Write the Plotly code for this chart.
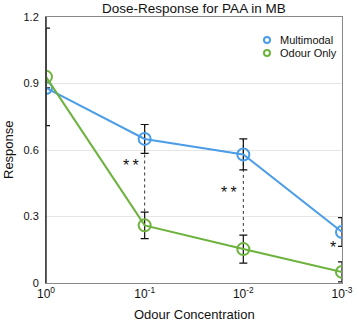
import math
import plotly.graph_objects as go

conc = [1, 0.1, 0.01, 0.001]
conc_labels = ["10<sup>0</sup>", "10<sup>-1</sup>", "10<sup>-2</sup>", "10<sup>-3</sup>"]
multimodal = [0.88, 0.65, 0.58, 0.23]
multimodal_err = [0.0, 0.065, 0.07, 0.065]
odour_only = [0.93, 0.26, 0.153, 0.05]
odour_err = [0.22, 0.06, 0.063, 0.045]
series_names = ["Multimodal", "Odour Only"]
sig_labels = ["*\u2009*", "*\u2009*", "*"]
sig_conc = [0.1, 0.01, 0.001]
sig_y = [0.53, 0.41, 0.16]

BLUE = "#4a9de6"
GREEN = "#6cb23c"
COLORS = [BLUE, GREEN]
FONT = "Liberation Sans, Arial, sans-serif"

fig = go.Figure()

# dashed significance connectors
for c, m, me, o, oe in zip(conc[1:3], multimodal[1:3], multimodal_err[1:3],
                           odour_only[1:3], odour_err[1:3]):
    fig.add_trace(go.Scatter(x=[c, c], y=[m + me, o + oe], mode="lines",
                             line=dict(color="#333", width=1, dash="3px,3px"),
                             showlegend=False, hoverinfo="skip"))

for name, vals, errs, col in zip(series_names, [multimodal, odour_only],
                                 [multimodal_err, odour_err], COLORS):
    fig.add_trace(go.Scatter(
        x=conc, y=vals, mode="lines+markers", name=name, showlegend=False,
        line=dict(color=col, width=2),
        marker=dict(symbol="circle-open", size=12, color=col, line=dict(width=2)),
        error_y=dict(type="data", array=errs, color="#111", thickness=1.2, width=4)))

# compact legend (symbol + label) in the top-right corner
for i, (name, col) in enumerate(zip(series_names, COLORS)):
    ly = 0.9135 - i * 0.049
    fig.add_shape(type="circle", xref="paper", yref="paper",
                  xsizemode="pixel", ysizemode="pixel", xanchor=0.7466, yanchor=ly,
                  x0=-3, x1=3, y0=-3, y1=3, line=dict(color=col, width=2))
    fig.add_annotation(x=0.7838, y=ly, xref="paper", yref="paper", text=name,
                       showarrow=False, xanchor="left", yanchor="middle",
                       font=dict(size=11, color="#111", family=FONT))

for lab, c, yv in zip(sig_labels, sig_conc, sig_y):
    fig.add_annotation(x=math.log10(c), y=yv, xref="x", yref="y", text=lab, showarrow=False,
                       xanchor="right", xshift=-4, font=dict(size=16, color="#111", family=FONT))

# axis titles
fig.add_annotation(x=0.5, y=0, xref="paper", yref="paper", text="Odour Concentration",
                   showarrow=False, yanchor="middle", yshift=-31,
                   font=dict(size=13, color="#111", family=FONT))
fig.add_annotation(x=0, y=0.5, xref="paper", yref="paper", text="Response",
                   showarrow=False, textangle=-90, xanchor="center", xshift=-38,
                   font=dict(size=13, color="#111", family=FONT))

fig.update_layout(
    width=359, height=322,
    margin=dict(l=46, r=17, t=17, b=39),
    paper_bgcolor="white", plot_bgcolor="white",
    font=dict(family=FONT, size=11, color="#111"),
    showlegend=False,
    title=dict(text="Dose-Response for PAA in MB", x=0.54, xanchor="center",
               y=0.99, yanchor="top", font=dict(size=13.5, family=FONT, color="#111")),
    xaxis=dict(type="log", range=[0, -3], tickvals=conc, ticktext=conc_labels,
               showgrid=False, showline=True, linecolor="#888", linewidth=1, mirror=True,
               ticks="", tickfont=dict(size=12), zeroline=False, automargin=False),
    yaxis=dict(range=[0, 1.2], tickvals=[0, 0.3, 0.6, 0.9, 1.2],
               ticktext=["0", "0.3", "0.6", "0.9", "1.2"],
               showgrid=True, gridcolor="#e6e6e6", gridwidth=1,
               showline=True, linecolor="#888", linewidth=1, mirror=True,
               ticks="outside", ticklen=4, tickcolor="rgba(0,0,0,0)",
               tickfont=dict(size=11), zeroline=False, automargin=False),
)
fig.add_shape(type="line", xref="paper", yref="paper", x0=0, x1=0, y0=0, y1=1,
              line=dict(color="#333", width=1.5))

fig.write_html("out.html", config={"displayModeBar": False},
               post_script="document.body.style.margin='0';")
